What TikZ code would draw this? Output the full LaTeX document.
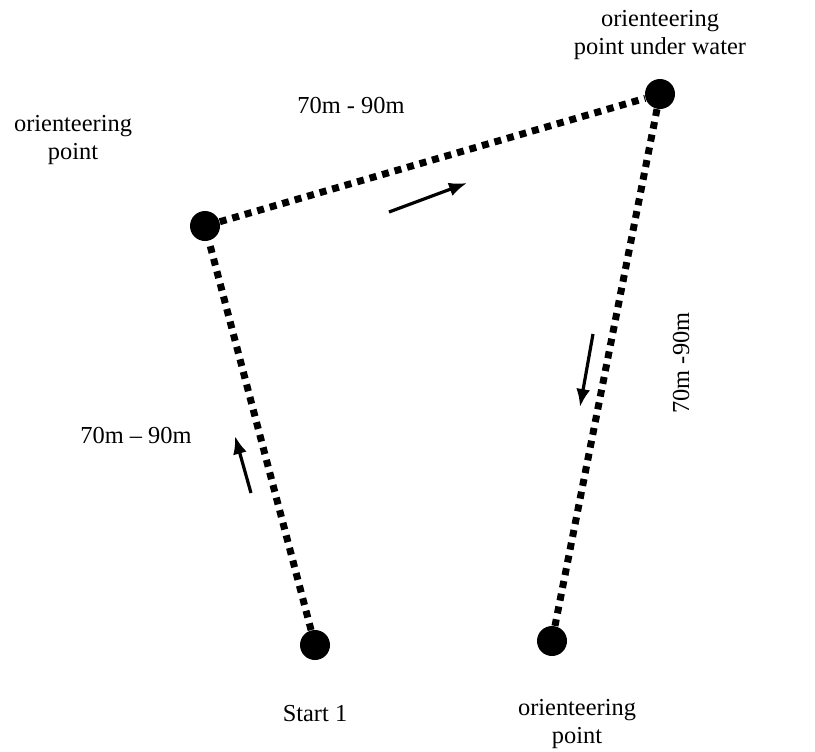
\documentclass[tikz,border=0pt]{standalone}
\usepackage{fontspec}
\setmainfont{Liberation Serif}
\usetikzlibrary{arrows.meta}

\begin{document}
\begin{tikzpicture}[x=0.5pt,y=-0.5pt]
        \tikzstyle{every node}=[font=\fontsize{12.2}{13.6}\selectfont]
        \tikzstyle{pt}=[circle,fill=black,inner sep=0pt,minimum size=15pt]
        \tikzstyle{leg}=[line width=3.5pt,dash pattern=on 3.5pt off 3pt]
        \tikzstyle{dir}=[line width=1.6pt,-{Latex[length=9pt,width=7pt]}]
        \tikzstyle{lbl}=[align=center,inner sep=0pt]

        \useasboundingbox (0,0) rectangle (815,751);

        % points
        \node [pt] (start)  at (315,645) {};
        \node [pt] (left)   at (205,226) {};
        \node [pt] (water)  at (660,94)  {};
        \node [pt] (right)  at (552,641) {};

        % legs
        \draw [leg] (start) -- (left);   % start->left
        \draw [leg] (left)  -- (water);  % left->water
        \draw [leg] (water) -- (right);  % water->right

        % direction arrows
        \coordinate (a1) at (251,493); \coordinate (b1) at (235,436);
        \coordinate (a2) at (389,212); \coordinate (b2) at (467,183);
        \coordinate (a3) at (593,334); \coordinate (b3) at (580,407);
        \draw [dir] (a1) -- (b1);
        \draw [dir] (a2) -- (b2);
        \draw [dir] (a3) -- (b3);

        % labels
        \node [lbl] (lstart) at (315,714) {Start 1};
        \node [lbl] (lleft)  at (73,140)  {orienteering\\point};
        \node [lbl] (lwater) at (660,35)  {orienteering\\point under water};
        \node [lbl] (lright) at (577,724) {orienteering\\point};
        \node [lbl] (d1) at (136,435) {70m -- 90m};
        \node [lbl] (d2) at (351,105) {70m - 90m};
        \node [lbl,rotate=90] (d3) at (681,363) {70m -90m};
\end{tikzpicture}
\end{document}
